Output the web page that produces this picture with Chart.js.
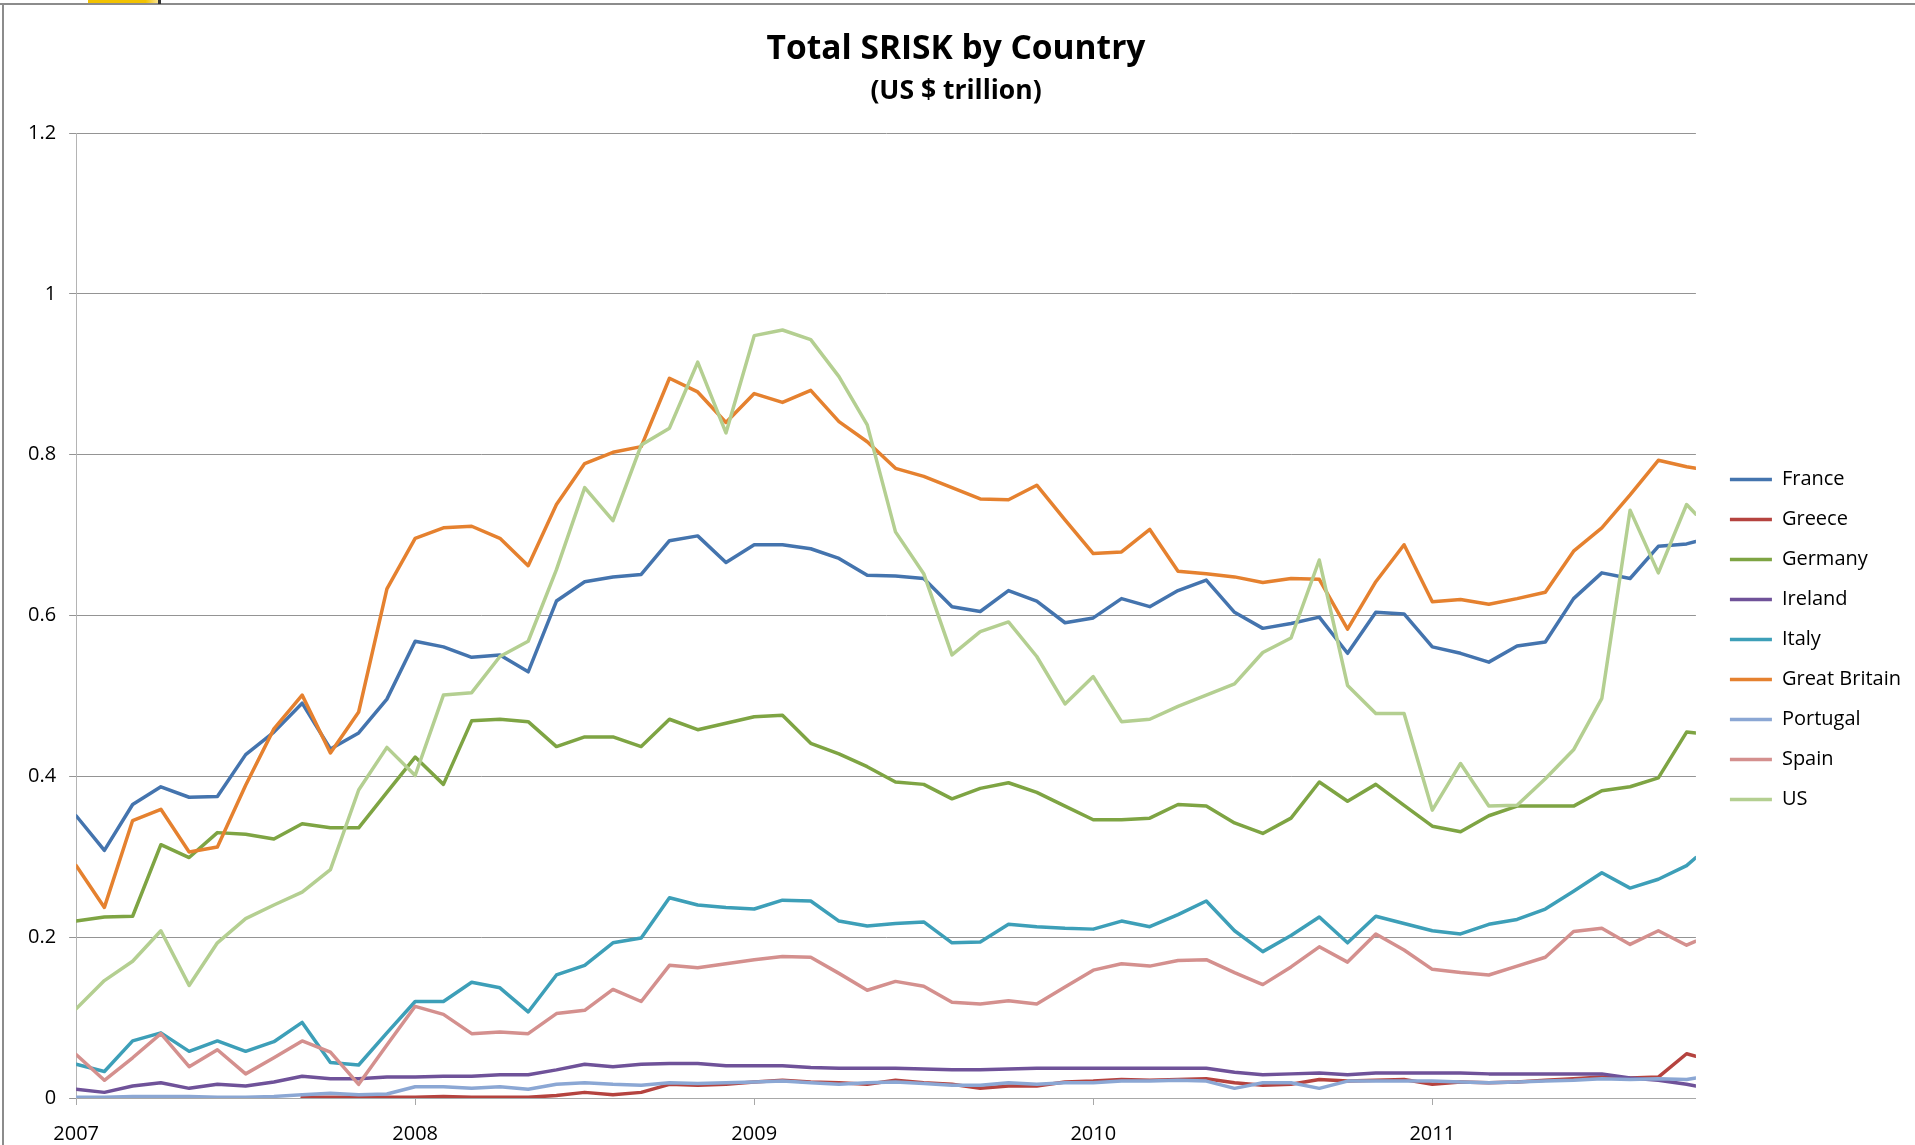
<!DOCTYPE html>
<html>
<head>
<meta charset="utf-8">
<title>Total SRISK by Country</title>
<script src="https://cdn.jsdelivr.net/npm/chart.js@4.4.1/dist/chart.umd.min.js"></script>
<style>
  html, body { margin: 0; padding: 0; background: #fff; }
  #wrap { position: relative; width: 1915px; height: 1145px; }
  #frameTop { position: absolute; left: 0; top: 3px; width: 1915px; height: 2px; background: #8c8c8c; }
  #frameLeft { position: absolute; left: 2px; top: 3px; width: 2px; height: 1142px; background: #8c8c8c; }
  #logo { position: absolute; left: 88px; top: 0; width: 72px; height: 3px;
          background: linear-gradient(to right, #f2c200 0%, #f2c200 80%, #fbe9a8 100%); }
  #logoBar { position: absolute; left: 158px; top: 0; width: 3px; height: 4px; background: #333; }
</style>
</head>
<body>
<div id="wrap">
  <canvas id="myChart"></canvas>
  <div id="frameTop"></div>
  <div id="frameLeft"></div>
  <div id="logo"></div>
  <div id="logoBar"></div>
</div>
<script>
// month offsets from Jan 2007 (last point is a mid-October 2011 reading)
const months = [
  0, 1, 2, 3, 4, 5, 6, 7, 8, 9, 10, 11,
  12, 13, 14, 15, 16, 17, 18, 19, 20, 21, 22, 23,
  24, 25, 26, 27, 28, 29, 30, 31, 32, 33, 34, 35,
  36, 37, 38, 39, 40, 41, 42, 43, 44, 45, 46, 47,
  48, 49, 50, 51, 52, 53, 54, 55, 56, 57, 57.33,
]
const yearTicks = [0, 12, 24, 36, 48]
const yearLabels = ['2007', '2008', '2009', '2010', '2011']
const yTicks = [0, 0.2, 0.4, 0.6, 0.8, 1, 1.2]
const yTickLabels = ['0', '0.2', '0.4', '0.6', '0.8', '1', '1.2']

const countries = ['France', 'Greece', 'Germany', 'Ireland', 'Italy', 'Great Britain', 'Portugal', 'Spain', 'US']

const france = [
  0.351, 0.308, 0.365, 0.387, 0.374, 0.375, 0.427, 0.455, 0.491, 0.434, 0.454, 0.496,
  0.568, 0.561, 0.548, 0.551, 0.530, 0.618, 0.642, 0.648, 0.651, 0.693, 0.699, 0.666,
  0.688, 0.688, 0.683, 0.671, 0.650, 0.649, 0.646, 0.611, 0.605, 0.631, 0.618, 0.591,
  0.597, 0.621, 0.611, 0.631, 0.644, 0.604, 0.584, 0.590, 0.598, 0.553, 0.604, 0.602,
  0.561, 0.553, 0.542, 0.562, 0.567, 0.621, 0.653, 0.646, 0.686, 0.689, 0.692,
]
const greece = [
  null, null, null, null, null, null, null, null, 0.001, 0.001, 0.001, 0.001,
  0.001, 0.002, 0.001, 0.001, 0.001, 0.003, 0.007, 0.004, 0.007, 0.017, 0.016, 0.017,
  0.020, 0.022, 0.020, 0.019, 0.017, 0.022, 0.019, 0.017, 0.012, 0.015, 0.015, 0.020,
  0.021, 0.023, 0.022, 0.023, 0.024, 0.019, 0.016, 0.017, 0.023, 0.021, 0.022, 0.023,
  0.017, 0.020, 0.019, 0.020, 0.022, 0.024, 0.026, 0.025, 0.026, 0.055, 0.052,
]
const germany = [
  0.220, 0.225, 0.226, 0.315, 0.299, 0.330, 0.328, 0.322, 0.341, 0.336, 0.336, 0.380,
  0.424, 0.390, 0.469, 0.471, 0.468, 0.437, 0.449, 0.449, 0.437, 0.471, 0.458, 0.466,
  0.474, 0.476, 0.441, 0.428, 0.412, 0.393, 0.390, 0.372, 0.385, 0.392, 0.380, 0.363,
  0.346, 0.346, 0.348, 0.365, 0.363, 0.342, 0.329, 0.348, 0.393, 0.369, 0.390, 0.364,
  0.338, 0.331, 0.351, 0.363, 0.363, 0.363, 0.382, 0.387, 0.398, 0.455, 0.454,
]
const ireland = [
  0.011, 0.007, 0.015, 0.019, 0.012, 0.017, 0.015, 0.020, 0.027, 0.024, 0.024, 0.026,
  0.026, 0.027, 0.027, 0.029, 0.029, 0.035, 0.042, 0.039, 0.042, 0.043, 0.043, 0.040,
  0.040, 0.040, 0.038, 0.037, 0.037, 0.037, 0.036, 0.035, 0.035, 0.036, 0.037, 0.037,
  0.037, 0.037, 0.037, 0.037, 0.037, 0.032, 0.029, 0.030, 0.031, 0.029, 0.031, 0.031,
  0.031, 0.031, 0.030, 0.030, 0.030, 0.030, 0.030, 0.025, 0.022, 0.017, 0.015,
]
const italy = [
  0.042, 0.033, 0.071, 0.081, 0.058, 0.071, 0.058, 0.070, 0.094, 0.044, 0.041, 0.081,
  0.120, 0.120, 0.144, 0.137, 0.107, 0.153, 0.165, 0.193, 0.199, 0.249, 0.240, 0.237,
  0.235, 0.246, 0.245, 0.220, 0.214, 0.217, 0.219, 0.193, 0.194, 0.216, 0.213, 0.211,
  0.210, 0.220, 0.213, 0.228, 0.245, 0.208, 0.182, 0.202, 0.225, 0.193, 0.226, 0.217,
  0.208, 0.204, 0.216, 0.222, 0.235, 0.257, 0.280, 0.261, 0.272, 0.289, 0.299,
]
const greatBritain = [
  0.289, 0.237, 0.345, 0.359, 0.306, 0.312, 0.389, 0.459, 0.501, 0.429, 0.480, 0.633,
  0.696, 0.709, 0.711, 0.696, 0.662, 0.738, 0.789, 0.803, 0.810, 0.895, 0.878, 0.840,
  0.876, 0.865, 0.880, 0.841, 0.816, 0.783, 0.773, 0.759, 0.745, 0.744, 0.762, 0.719,
  0.677, 0.679, 0.707, 0.655, 0.652, 0.648, 0.641, 0.646, 0.645, 0.583, 0.642, 0.688,
  0.617, 0.620, 0.614, 0.621, 0.629, 0.680, 0.709, 0.750, 0.793, 0.785, 0.783,
]
const portugal = [
  0.001, 0.001, 0.002, 0.002, 0.002, 0.001, 0.001, 0.002, 0.004, 0.006, 0.004, 0.005,
  0.014, 0.014, 0.012, 0.014, 0.011, 0.017, 0.019, 0.017, 0.016, 0.019, 0.018, 0.019,
  0.020, 0.021, 0.019, 0.017, 0.019, 0.020, 0.018, 0.016, 0.016, 0.019, 0.017, 0.019,
  0.019, 0.021, 0.021, 0.022, 0.021, 0.012, 0.019, 0.019, 0.012, 0.021, 0.021, 0.021,
  0.021, 0.020, 0.019, 0.020, 0.021, 0.022, 0.024, 0.023, 0.024, 0.023, 0.025,
]
const spain = [
  0.054, 0.022, 0.050, 0.080, 0.039, 0.060, 0.030, 0.050, 0.071, 0.057, 0.017, 0.066,
  0.114, 0.104, 0.080, 0.082, 0.080, 0.105, 0.109, 0.135, 0.120, 0.165, 0.162, 0.167,
  0.172, 0.176, 0.175, 0.155, 0.134, 0.145, 0.139, 0.119, 0.117, 0.121, 0.117, 0.138,
  0.159, 0.167, 0.164, 0.171, 0.172, 0.156, 0.141, 0.163, 0.188, 0.169, 0.204, 0.184,
  0.160, 0.156, 0.153, 0.164, 0.175, 0.207, 0.211, 0.191, 0.208, 0.190, 0.195,
]
const us = [
  0.111, 0.146, 0.170, 0.208, 0.140, 0.193, 0.223, 0.240, 0.256, 0.284, 0.383, 0.436,
  0.401, 0.501, 0.504, 0.549, 0.568, 0.657, 0.759, 0.718, 0.812, 0.833, 0.915, 0.827,
  0.948, 0.955, 0.943, 0.897, 0.837, 0.704, 0.652, 0.551, 0.580, 0.592, 0.549, 0.490,
  0.524, 0.468, 0.471, 0.487, 0.501, 0.515, 0.554, 0.572, 0.669, 0.513, 0.478, 0.478,
  0.358, 0.416, 0.363, 0.364, 0.397, 0.433, 0.497, 0.731, 0.653, 0.738, 0.726,
]

const series = [france, greece, germany, ireland, italy, greatBritain, portugal, spain, us]
const colors = ['#4474ae', '#b5433f', '#7ea443', '#6f5299', '#3d9fb8', '#e5812f', '#8ba7d4', '#d4908e', '#b4cf91']

// move the legend items right/down to where the original sits
const legendNudge = {
  id: 'legendNudge',
  afterLayout(chart) {
    const lg = chart.legend
    lg.left += 14
    lg.right += 14
    lg.top += 67
    lg.bottom += 67
  },
}

Chart.defaults.font.family = '"Open Sans", "DejaVu Sans", sans-serif'
Chart.defaults.font.size = 20
Chart.defaults.color = '#000'

const ctx = document.getElementById('myChart')
ctx.width = 1915
ctx.height = 1145

new Chart(ctx, {
  type: 'line',
  data: {
    datasets: series.map((values, i) => ({
      label: countries[i],
      data: values.map((v, j) => ({ x: months[j], y: v })),
      borderColor: colors[i],
      backgroundColor: colors[i],
      borderWidth: 3.5,
      borderJoinStyle: 'round',
      borderCapStyle: 'round',
      pointRadius: 0,
      tension: 0,
      order: series.length - 1 - i,
    })),
  },
  plugins: [legendNudge],
  options: {
    responsive: false,
    animation: false,
    layout: {
      padding: { left: 15, right: 18, top: 0, bottom: 0 },
    },
    plugins: {
      title: {
        display: true,
        text: 'Total SRISK by Country',
        font: { size: 33.5, weight: 'bold' },
        color: '#000',
        padding: { top: 29, bottom: 0 },
      },
      subtitle: {
        display: true,
        text: '(US $ trillion)',
        font: { size: 26.5, weight: 'bold' },
        color: '#000',
        padding: { top: 6, bottom: 26 },
      },
      legend: {
        position: 'right',
        labels: {
          usePointStyle: true,
          pointStyle: 'line',
          pointStyleWidth: 42,
          padding: 20,
          color: '#000',
          sort: (a, b) => a.datasetIndex - b.datasetIndex,
        },
      },
      tooltip: { enabled: false },
    },
    scales: {
      x: {
        type: 'linear',
        min: 0,
        max: months[months.length - 1],
        afterBuildTicks: (axis) => {
          axis.ticks = yearTicks.map((v) => ({ value: v }))
        },
        afterFit: (axis) => {
          axis.height -= 18
        },
        ticks: {
          autoSkip: false,
          maxRotation: 0,
          padding: 17,
          callback: (value) => yearLabels[yearTicks.indexOf(value)],
        },
        grid: {
          drawOnChartArea: false,
          drawTicks: true,
          tickLength: 7,
          color: '#a8a8a8',
        },
        border: { color: '#a8a8a8', width: 1 },
      },
      y: {
        min: 0,
        max: 1.2,
        afterBuildTicks: (axis) => {
          axis.ticks = yTicks.map((v) => ({ value: v }))
        },
        ticks: {
          padding: 13,
          callback: (value) => yTickLabels[yTicks.indexOf(value)],
        },
        grid: {
          color: '#949494',
          tickLength: 7,
        },
        border: { color: '#b4b4b4', width: 1 },
      },
    },
  },
})
</script>
</body>
</html>
